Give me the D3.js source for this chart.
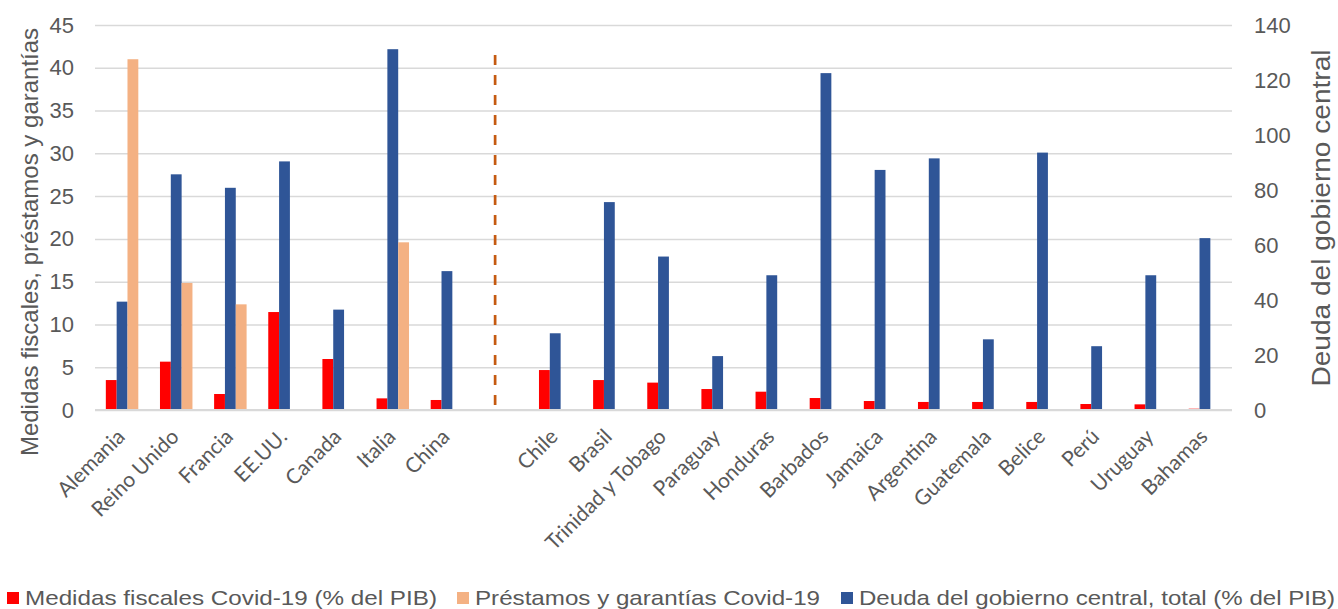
<!DOCTYPE html>
<html>
<head>
<meta charset="utf-8">
<script src="https://cdnjs.cloudflare.com/ajax/libs/d3/7.8.5/d3.min.js"></script>
<style>
  body { margin: 0; background: #fff; }
  svg { display: block; }
</style>
</head>
<body>
<svg id="chart" width="1338" height="609"></svg>
<script>
// categories (blank slot separates the two groups)
var countries = ["Alemania","Reino Unido","Francia","EE.UU.","Canada","Italia","China","",
  "Chile","Brasil","Trinidad y Tobago","Paraguay","Honduras","Barbados","Jamaica",
  "Argentina","Guatemala","Belice","Perú","Uruguay","Bahamas"];
// % del PIB
var medidas   = [3.5, 5.65, 1.87, 11.45, 5.96, 1.36, 1.17, null,
  4.67, 3.5, 3.2, 2.45, 2.14, 1.4, 1.05, 0.94, 0.94, 0.94, 0.7, 0.66, 0.15];
var prestamos = [41.0, 14.85, 12.35, null, null, 19.6, null, null,
  null, null, null, null, null, null, null, null, null, null, null, null, null];
var deuda     = [39.4, 85.7, 80.8, 90.4, 36.5, 131.2, 50.5, null,
  27.9, 75.6, 55.8, 19.6, 49.0, 122.5, 87.3, 91.5, 25.7, 93.6, 23.2, 49.0, 62.5];
var leftTicks  = [0,5,10,15,20,25,30,35,40,45];
var rightTicks = [0,20,40,60,80,100,120,140];
var dividerTop = 41.5;   // height of dashed separator, left-axis units

var legendNames = ["Medidas fiscales Covid-19 (% del PIB)",
  "Préstamos y garantías Covid-19",
  "Deuda del gobierno central, total (% del PIB)"];
var colRed = "#ff0000", colOrange = "#f4b183", colBlue = "#2f5597";

var svg = d3.select("#chart");
var plotL = 95, plotR = 1232, plotT = 25, plotB = 410;
var grey = "#595959";

var x = d3.scaleBand()
    .domain(d3.range(countries.length))
    .range([plotL, plotR]);
var yL = d3.scaleLinear().domain([0, 45]).range([plotB, plotT]);
var yR = d3.scaleLinear().domain([0, 140]).range([plotB, plotT]);
var bw = x.step() * 0.2;

// gridlines
svg.append("g")
    .attr("transform", "translate(" + plotL + ",0)")
    .call(d3.axisLeft(yL).tickValues(leftTicks).tickSize(-(plotR - plotL)).tickFormat(""))
    .call(function(g) { g.select(".domain").remove(); })
    .selectAll("line").attr("stroke", "#d9d9d9").attr("stroke-width", 1.5);

// left axis labels
svg.append("g")
    .attr("transform", "translate(" + plotL + ",0)")
    .call(d3.axisLeft(yL).tickValues(leftTicks).tickSize(0).tickPadding(21))
    .call(function(g) { g.select(".domain").remove(); })
    .selectAll("text")
    .attr("fill", grey)
    .style("font-family", "'Liberation Sans', Arial, sans-serif")
    .style("font-size", "22px");

// right axis labels
svg.append("g")
    .attr("transform", "translate(" + plotR + ",0)")
    .call(d3.axisRight(yR).tickValues(rightTicks).tickSize(0).tickPadding(22))
    .call(function(g) { g.select(".domain").remove(); })
    .selectAll("text")
    .attr("fill", grey)
    .style("font-family", "'Liberation Sans', Arial, sans-serif")
    .style("font-size", "22px");

// bars
function barSeries(vals, scale, color, shift) {
  svg.append("g").selectAll("rect")
    .data(vals.map(function(v, i) { return {v: v, i: i}; }).filter(function(d) { return d.v != null; }))
    .enter().append("rect")
      .attr("x", function(d) { return x(d.i) + x.step() / 2 + shift * bw; })
      .attr("y", function(d) { return scale(d.v); })
      .attr("width", bw)
      .attr("height", function(d) { return scale(0) - scale(d.v); })
      .attr("fill", color);
}
barSeries(medidas, yL, colRed, -1.5);
barSeries(deuda, yR, colBlue, -0.5);
barSeries(prestamos, yL, colOrange, 0.5);

// baseline
svg.append("line")
    .attr("x1", plotL).attr("x2", plotR)
    .attr("y1", yL(0)).attr("y2", yL(0))
    .attr("stroke", "#d9d9d9").attr("stroke-width", 2);

// dashed separator
var divX = x(7) + x.step() * 0.39;
svg.append("line")
    .attr("x1", divX).attr("x2", divX)
    .attr("y1", yL(dividerTop)).attr("y2", yL(0) + 2)
    .attr("stroke", "#c55a11").attr("stroke-width", 2.7)
    .attr("stroke-dasharray", "10,10");

// category labels
svg.append("g").selectAll("text")
  .data(countries)
  .enter().append("text")
    .attr("transform", function(d, i) {
      return "translate(" + (x(i) + x.step() / 2 + 4) + ",438) rotate(-45)";
    })
    .attr("text-anchor", "end")
    .attr("fill", grey)
    .style("font-family", "Lato, 'Open Sans', sans-serif")
    .style("font-size", "21px")
    .text(function(d) { return d; });

// axis titles
svg.append("text")
    .attr("transform", "translate(38," + 242 + ") rotate(-90)")
    .attr("text-anchor", "middle")
    .attr("fill", grey)
    .style("font-family", "'Liberation Sans', Arial, sans-serif")
    .style("font-size", "24px")
    .text("Medidas fiscales, préstamos y garantías");

svg.append("text")
    .attr("transform", "translate(1330," + 218 + ") rotate(-90)")
    .attr("text-anchor", "middle")
    .attr("fill", grey)
    .attr("textLength", 337)
    .attr("lengthAdjust", "spacingAndGlyphs")
    .style("font-family", "'Liberation Sans', Arial, sans-serif")
    .style("font-size", "26px")
    .text("Deuda del gobierno central");

// legend
var legX = [7, 457, 841], legW = [412, 345, 476];
var legCol = [colRed, colOrange, colBlue];
var leg = svg.append("g").selectAll("g")
  .data(legendNames)
  .enter().append("g")
    .attr("transform", function(d, i) { return "translate(" + legX[i] + ",592)"; });
leg.append("rect")
    .attr("width", 12).attr("height", 12)
    .attr("fill", function(d, i) { return legCol[i]; });
leg.append("text")
    .attr("x", 18).attr("y", 13)
    .attr("fill", grey)
    .attr("textLength", function(d, i) { return legW[i]; })
    .attr("lengthAdjust", "spacingAndGlyphs")
    .style("font-family", "'Liberation Sans', Arial, sans-serif")
    .style("font-size", "21px")
    .text(function(d) { return d; });
</script>
</body>
</html>
